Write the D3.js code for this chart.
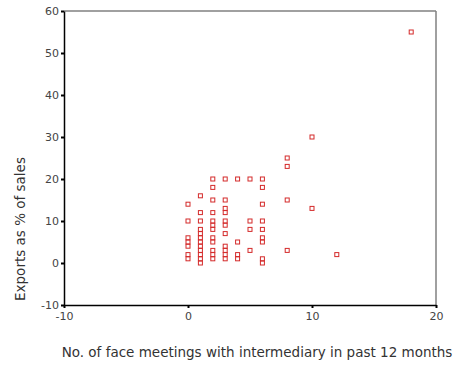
<!DOCTYPE html>
<html>
<head>
<meta charset="utf-8">
<script src="https://cdn.jsdelivr.net/npm/d3@7"></script>
<style>
  body { margin: 0; background: #fff; }
  svg { display: block; }
  .tick text { font-family: "DejaVu Sans", sans-serif; font-size: 11px; fill: #444; }
  .axis-title { font-family: "DejaVu Sans", sans-serif; font-size: 13.5px; fill: #333; }
</style>
</head>
<body>
<div id="chart"></div>
<script>
// face meetings (x) and exports % (y)
const meetings = [
  0, 0, 0, 0, 0, 0, 0,
  1, 1, 1, 1, 1, 1, 1, 1, 1, 1, 1, 1,
  2, 2, 2, 2, 2, 2, 2, 2, 2, 2, 2, 2,
  3, 3, 3, 3, 3, 3, 3, 3, 3, 3, 3,
  4, 4, 4, 4,
  5, 5, 5, 5,
  6, 6, 6, 6, 6, 6, 6, 6, 6,
  8, 8, 8, 8,
  10, 10,
  12,
  18
];
const exportsPct = [
  14, 10, 6, 5, 4, 2, 1,
  16, 12, 10, 8, 7, 6, 5, 4, 3, 2, 1, 0,
  20, 18, 15, 12, 10, 9, 8, 6, 5, 3, 2, 1,
  20, 15, 13, 12, 10, 9, 7, 4, 3, 2, 1,
  20, 5, 2, 1,
  20, 10, 8, 3,
  20, 18, 14, 10, 8, 6, 5, 1, 0,
  25, 23, 15, 3,
  30, 13,
  2,
  55
];
const xTicks = [-10, 0, 10, 20];
const yTicks = [-10, 0, 10, 20, 30, 40, 50, 60];

const points = meetings.map((m, i) => ({ x: m, y: exportsPct[i] }));

const width = 455, height = 366;
const margin = { top: 11, right: 19, bottom: 61, left: 64 };
const innerW = width - margin.left - margin.right;
const innerH = height - margin.top - margin.bottom;

const svg = d3.select('#chart').append('svg')
  .attr('width', width)
  .attr('height', height);

const chart = svg.append('g')
  .attr('transform', `translate(${margin.left},${margin.top})`);

const xScale = d3.scaleLinear().domain([-10, 20]).range([0, innerW]);
const yScale = d3.scaleLinear().domain([-10, 60]).range([innerH, 0]);

// gray frame on top and right
chart.append('line')
  .attr('x1', 0).attr('x2', innerW).attr('y1', 0).attr('y2', 0)
  .attr('stroke', '#808080').attr('stroke-width', 1.5);
chart.append('line')
  .attr('x1', innerW).attr('x2', innerW).attr('y1', 0).attr('y2', innerH)
  .attr('stroke', '#808080').attr('stroke-width', 1.5);

const plain = d => String(d);

const xAxis = chart.append('g')
  .attr('transform', `translate(0,${innerH})`)
  .call(d3.axisBottom(xScale).tickValues(xTicks).tickFormat(plain).tickSize(3).tickSizeOuter(0).tickPadding(4));
const yAxis = chart.append('g')
  .call(d3.axisLeft(yScale).tickValues(yTicks).tickFormat(plain).tickSize(3).tickSizeOuter(0).tickPadding(2));

[xAxis, yAxis].forEach(a => {
  a.select('.domain').attr('stroke', '#000').attr('stroke-width', 1.5);
  a.selectAll('.tick line').attr('stroke', '#000').attr('stroke-width', 2);
});

const s = 4;
chart.selectAll('.point')
  .data(points)
  .enter()
  .append('rect')
  .attr('class', 'point')
  .attr('x', d => xScale(d.x) - s / 2)
  .attr('y', d => yScale(d.y) - s / 2)
  .attr('width', s)
  .attr('height', s)
  .attr('fill', 'none')
  .attr('stroke', '#d42a2a')
  .attr('stroke-width', 1);

svg.append('text')
  .attr('class', 'axis-title')
  .attr('text-anchor', 'middle')
  .attr('x', 257)
  .attr('y', 357)
  .text('No. of face meetings with intermediary in past 12 months');

svg.append('text')
  .attr('class', 'axis-title')
  .attr('text-anchor', 'middle')
  .attr('transform', 'translate(25,229) rotate(-90)')
  .text('Exports as % of sales');
</script>
</body>
</html>
